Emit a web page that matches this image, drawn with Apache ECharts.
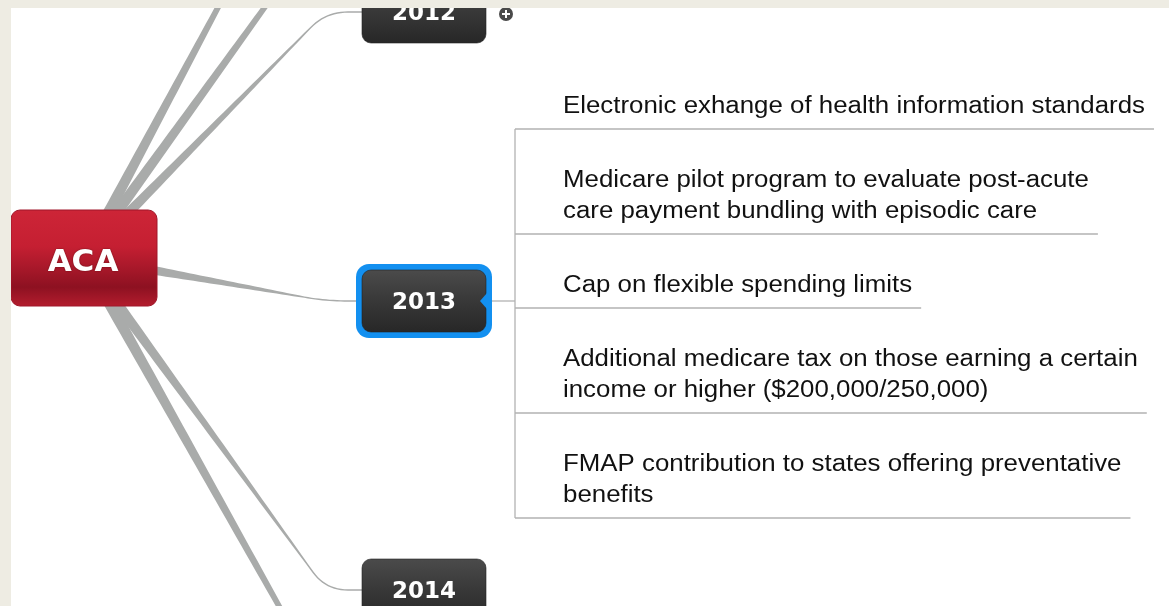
<!DOCTYPE html>
<html>
<head>
<meta charset="utf-8">
<title>ACA timeline</title>
<style>
  html, body { margin: 0; padding: 0; background: #fff; }
  #main { width: 1169px; height: 606px; }
</style>
<script src="https://cdn.jsdelivr.net/npm/echarts@6/dist/echarts.min.js"></script>
</head>
<body>
<div id="main"></div>
<script>
// ---- content of the map ----
var rootLabel = 'ACA'
var years = ['2012', '2013', '2014']
var activeYear = '2013'
var collapsedYears = ['2012'] // these show the (+) marker
var items2013 = [
  ['Electronic exhange of health information standards'],
  ['Medicare pilot program to evaluate post-acute', 'care payment bundling with episodic care'],
  ['Cap on flexible spending limits'],
  ['Additional medicare tax on those earning a certain', 'income or higher ($200,000/250,000)'],
  ['FMAP contribution to states offering preventative', 'benefits']
]

// ---- layout ----
var ROOT = { x: 11, y: 210, w: 146, h: 96 }
var ROOT_C = [84, 258]          // branches start in the middle of the root
var YEAR_X = 362, YEAR_W = 124, YEAR_H = 62
var ACTIVE_CY = 301, YEAR_GAP = 289
var ELBOW_X = 326, ELBOW_R = 22
var LIST_X = 515, TEXT_X = 563, LIST_TOP = 55
var ONE_LINE_H = 74, LINE_H = 31
// other root branches (years outside the view) only show as thick strokes
var offscreenTips = [[222, 0], [270, 0], [284, 615]]
var offscreenTipW = 5.5
var BRANCH = '#a9abaa'
var RULE = '#b2b2b2'
var ITEM_FONT = '23.5px "Liberation Sans", Arial, sans-serif'
var ITEM_STRETCH = 1.1          // the slide was captured slightly wide
var YEAR_FONT = 'bold 23px "DejaVu Sans", Verdana, sans-serif'
var ROOT_FONT = 'bold 31px "DejaVu Sans", Verdana, sans-serif'

var chart = echarts.init(document.getElementById('main'))

var measure = document.createElement('canvas').getContext('2d')
function textWidth(str, font) {
  measure.font = font
  return measure.measureText(str).width
}

function lerp(a, b, t) { return [a[0] + (b[0] - a[0]) * t, a[1] + (b[1] - a[1]) * t] }

// centerline: straight to the elbow, rounded corner, then flat into the node
function elbowPath(start, cy, endX) {
  var corner = [ELBOW_X, cy]
  var dx = corner[0] - start[0], dy = corner[1] - start[1]
  var d = Math.sqrt(dx * dx + dy * dy)
  var a = [corner[0] - dx / d * ELBOW_R, corner[1] - dy / d * ELBOW_R]
  var b = [corner[0] + ELBOW_R, cy]
  var pts = [], i, t
  for (i = 0; i <= 40; i++) pts.push(lerp(start, a, i / 40))
  var taperEnd = pts.length - 1
  for (i = 1; i <= 12; i++) {
    t = i / 12
    pts.push(lerp(lerp(a, corner, t), lerp(corner, b, t), t))
  }
  for (i = 1; i <= 6; i++) pts.push(lerp(b, [endX, cy], i / 6))
  return { pts: pts, taperEnd: taperEnd }
}

function straightPath(start, end) {
  var pts = []
  for (var i = 0; i <= 40; i++) pts.push(lerp(start, end, i / 40))
  return { pts: pts, taperEnd: pts.length - 1 }
}

// tapered stroke as a filled polygon around the centerline
function taper(path, w0, w1) {
  var pts = path.pts, n = pts.length
  var len = [0], i
  for (i = 1; i < n; i++) {
    len.push(len[i - 1] + Math.hypot(pts[i][0] - pts[i - 1][0], pts[i][1] - pts[i - 1][1]))
  }
  var total = len[path.taperEnd]
  var left = [], right = []
  for (i = 0; i < n; i++) {
    var p0 = pts[Math.max(0, i - 1)], p1 = pts[Math.min(n - 1, i + 1)]
    var tx = p1[0] - p0[0], ty = p1[1] - p0[1]
    var tl = Math.hypot(tx, ty) || 1
    var nx = -ty / tl, ny = tx / tl
    var k = Math.min(1, len[i] / total)
    var w = (w0 + (w1 - w0) * k) / 2
    left.push([pts[i][0] + nx * w, pts[i][1] + ny * w])
    right.push([pts[i][0] - nx * w, pts[i][1] - ny * w])
  }
  return left.concat(right.reverse())
}

var els = []

// branches from the root
offscreenTips.forEach(function (tip) {
  els.push({ type: 'polygon', silent: true, shape: { points: taper(straightPath(ROOT_C, tip), 12, offscreenTipW) }, style: { fill: BRANCH } })
})
var activeIdx = years.indexOf(activeYear)
years.forEach(function (y, i) {
  var cy = ACTIVE_CY + (i - activeIdx) * YEAR_GAP
  els.push({ type: 'polygon', silent: true, shape: { points: taper(elbowPath(ROOT_C, cy, YEAR_X), 12, 1.4) }, style: { fill: BRANCH } })
})

// root node
els.push({
  type: 'rect', silent: true,
  shape: { x: ROOT.x, y: ROOT.y, width: ROOT.w, height: ROOT.h, r: 9 },
  style: {
    fill: new echarts.graphic.LinearGradient(0, 0, 0, 1, [
      { offset: 0, color: '#cd2537' },
      { offset: 0.38, color: '#c51f32' },
      { offset: 0.6, color: '#a8182a' },
      { offset: 0.8, color: '#8d1121' },
      { offset: 1, color: '#b41d2e' }
    ]),
    stroke: '#a0172a', lineWidth: 1
  }
})
els.push({
  type: 'text', silent: true,
  style: {
    text: rootLabel, x: ROOT.x + ROOT.w / 2 - 1, y: ROOT.y + ROOT.h / 2 + 5,
    font: ROOT_FONT, fill: '#fff', align: 'center', verticalAlign: 'middle',
    textAlign: 'center', textVerticalAlign: 'middle',
    textShadowColor: 'rgba(60,0,0,0.6)', textShadowBlur: 2
  }
})

// year nodes
var darkFill = function () {
  return new echarts.graphic.LinearGradient(0, 0, 0, 1, [
    { offset: 0, color: '#4b4b4b' },
    { offset: 0.5, color: '#383838' },
    { offset: 1, color: '#272727' }
  ])
}
years.forEach(function (y, i) {
  var cy = ACTIVE_CY + (i - activeIdx) * YEAR_GAP
  var top = cy - YEAR_H / 2
  if (y === activeYear) {
    els.push({ type: 'rect', silent: true, shape: { x: YEAR_X - 6, y: top - 6, width: YEAR_W + 12, height: YEAR_H + 12, r: 13 }, style: { fill: '#1390f0' } })
  }
  els.push({ type: 'rect', silent: true, shape: { x: YEAR_X, y: top, width: YEAR_W, height: YEAR_H, r: 9 }, style: { fill: darkFill(), stroke: '#222', lineWidth: 0.6 } })
  if (y === activeYear) {
    // small notch where the children attach
    var rx = YEAR_X + YEAR_W
    els.push({ type: 'polygon', silent: true, shape: { points: [[rx + 1, cy - 8], [rx - 6, cy], [rx + 1, cy + 8]] }, style: { fill: '#1390f0' } })
  }
  els.push({
    type: 'text', silent: true,
    style: {
      text: y, x: YEAR_X + YEAR_W / 2, y: cy + 2,
      font: YEAR_FONT, fill: '#fff', align: 'center', verticalAlign: 'middle',
      textAlign: 'center', textVerticalAlign: 'middle'
    }
  })
  if (collapsedYears.indexOf(y) >= 0) {
    var px = YEAR_X + YEAR_W + 20, py = cy + 2
    els.push({ type: 'circle', silent: true, shape: { cx: px, cy: py, r: 7 }, style: { fill: '#4a4a4a' } })
    els.push({ type: 'line', silent: true, shape: { x1: px - 4, y1: py, x2: px + 4, y2: py }, style: { stroke: '#fff', lineWidth: 2 } })
    els.push({ type: 'line', silent: true, shape: { x1: px, y1: py - 4, x2: px, y2: py + 4 }, style: { stroke: '#fff', lineWidth: 2 } })
  }
})

// children of the active year
var firstRule = null, lastRule = null
var yTop = LIST_TOP
items2013.forEach(function (lines) {
  var h = ONE_LINE_H + (lines.length - 1) * LINE_H
  var rule = yTop + h
  var wMax = 0
  lines.forEach(function (ln, j) {
    var ty = rule - 22 - (lines.length - 1 - j) * LINE_H
    wMax = Math.max(wMax, textWidth(ln, ITEM_FONT) * ITEM_STRETCH)
    els.push({
      type: 'text', silent: true,
      x: TEXT_X, y: ty, scaleX: ITEM_STRETCH,
      style: { text: ln, x: 0, y: 0, font: ITEM_FONT, fill: '#111', align: 'left', verticalAlign: 'middle', textAlign: 'left', textVerticalAlign: 'middle' }
    })
  })
  els.push({ type: 'line', silent: true, shape: { x1: LIST_X, y1: rule, x2: TEXT_X + wMax + 9, y2: rule }, style: { stroke: RULE, lineWidth: 1.3 } })
  if (firstRule === null) firstRule = rule
  lastRule = rule
  yTop = rule
})
els.push({ type: 'line', silent: true, shape: { x1: LIST_X, y1: firstRule, x2: LIST_X, y2: lastRule }, style: { stroke: RULE, lineWidth: 1.3 } })
els.push({ type: 'line', silent: true, shape: { x1: YEAR_X + YEAR_W + 6, y1: ACTIVE_CY, x2: LIST_X, y2: ACTIVE_CY }, style: { stroke: RULE, lineWidth: 1.3 } })

// beige frame of the slide
els.push({ type: 'rect', silent: true, shape: { x: 0, y: 0, width: 1169, height: 8 }, style: { fill: '#eeece3' } })
els.push({ type: 'rect', silent: true, shape: { x: 0, y: 0, width: 11, height: 606 }, style: { fill: '#eeece3' } })

chart.setOption({
  backgroundColor: '#ffffff',
  animation: false,
  graphic: { elements: els }
})
</script>
</body>
</html>
